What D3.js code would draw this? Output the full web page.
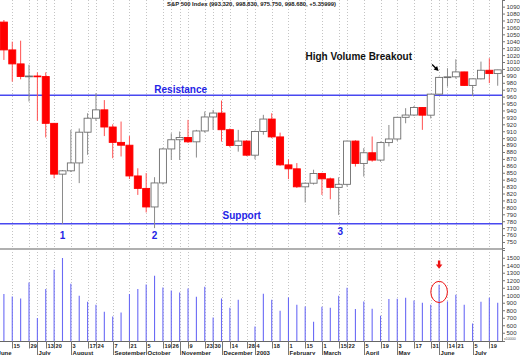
<!DOCTYPE html>
<html>
<head>
<meta charset="utf-8">
<script src="https://cdn.jsdelivr.net/npm/d3@7"></script>
<style>
  body { margin: 0; background: #fff; }
  svg { display: block; font-family: 'Liberation Sans', Arial, sans-serif; }
</style>
</head>
<body>
<div id="chart"></div>
<script>
// weekly bars, dated by the Saturday that ends each week
var weeks = ['2002-06-08','2002-06-15','2002-06-22','2002-06-29','2002-07-06','2002-07-13','2002-07-20','2002-07-27',
  '2002-08-03','2002-08-10','2002-08-17','2002-08-24','2002-08-31','2002-09-07','2002-09-14','2002-09-21','2002-09-28',
  '2002-10-05','2002-10-12','2002-10-19','2002-10-26','2002-11-02','2002-11-09','2002-11-16','2002-11-23','2002-11-30',
  '2002-12-07','2002-12-14','2002-12-21','2002-12-28','2003-01-04','2003-01-11','2003-01-18','2003-01-25','2003-02-01',
  '2003-02-08','2003-02-15','2003-02-22','2003-03-01','2003-03-08','2003-03-15','2003-03-22','2003-03-29','2003-04-05',
  '2003-04-12','2003-04-19','2003-04-26','2003-05-03','2003-05-10','2003-05-17','2003-05-24','2003-05-31','2003-06-07',
  '2003-06-14','2003-06-21','2003-06-28','2003-07-05','2003-07-12','2003-07-19','2003-07-26'];

var open  = [1067.7,1027.5,1007.3,989.1,989.8,989.0,921.4,848.0,852.8,864.2,908.6,928.8,940.9,916.1,893.9,889.8,845.4,
  827.4,800.6,835.3,884.4,897.7,901.0,894.7,910.4,930.6,936.3,912.2,889.5,895.8,875.4,909.6,927.6,901.8,861.4,
  855.7,829.7,834.9,849.0,841.2,828.9,833.3,895.8,863.5,878.9,868.3,893.6,898.8,930.1,933.4,944.3,933.2,963.6,
  987.8,988.6,995.7,976.2,985.7,998.1,993.32];
var high  = [1070.7,1039.4,1040.8,1006.0,995.0,995.0,922.0,854.0,912.0,914.0,936.0,965.0,955.0,920.0,924.0,903.0,856.5,
  849.5,843.6,886.0,907.0,909.6,926.4,912.0,938.5,940.8,954.3,914.0,912.0,897.0,911.0,933.7,936.0,908.0,869.5,
  864.0,836.0,854.4,850.0,843.0,843.5,896.6,897.0,885.6,902.4,895.0,919.0,931.0,943.3,946.5,945.0,964.0,989.0,
  1001.0,1014.0,996.0,986.0,1010.6,1015.4,998.83];
var low   = [1013.0,981.7,985.0,953.0,925.0,901.0,842.0,776.0,851.0,835.0,876.0,925.0,903.0,871.0,873.5,841.0,818.0,
  792.7,770.0,833.0,868.5,868.5,893.0,872.0,908.0,912.0,895.0,887.0,880.5,874.0,869.5,905.0,900.0,860.0,840.8,
  828.0,807.0,833.0,818.0,811.7,789.0,830.0,859.0,844.5,866.0,866.0,888.0,896.0,921.5,932.0,912.0,928.5,962.0,
  974.5,986.0,975.4,961.0,985.0,979.5,975.75];
var close = [1027.5,1007.3,989.1,989.8,989.0,921.4,848.0,852.8,864.2,908.6,928.8,940.9,916.1,893.9,889.8,845.4,827.4,
  800.6,835.3,884.4,897.7,901.0,894.7,910.4,930.6,936.3,912.2,889.5,895.8,875.4,909.6,927.6,901.8,861.4,855.7,
  829.7,834.9,849.0,841.2,828.9,833.3,895.8,863.5,878.9,868.3,893.6,898.8,930.1,933.4,944.3,933.2,963.6,987.8,
  988.6,995.7,976.2,985.7,998.1,993.3,998.68];
var volume = [1016,984,957,1171,696,1082,1340,1496,1153,993,913,873,780,718,771,1016,1082,1144,1260,1104,1064,1038,
  1091,980,1113,704,957,833,940,380,584,1020,940,793,971,873,851,647,847,833,993,1100,816,918,820,727,949,953,967,
  931,900,873,1140,918,1007,873,624,913,967,900];

var dayTicks = ['2002-06-15','2002-06-29','2002-07-13','2002-07-20','2002-08-03','2002-08-17','2002-08-24','2002-09-07',
  '2002-09-21','2002-10-05','2002-10-19','2002-10-26','2002-11-09','2002-11-23','2002-11-30','2002-12-14','2002-12-28',
  '2003-01-04','2003-01-18','2003-02-01','2003-02-15','2003-03-01','2003-03-15','2003-03-22','2003-04-05','2003-04-19',
  '2003-05-03','2003-05-17','2003-05-31','2003-06-14','2003-06-21','2003-07-05','2003-07-19'];
var monthTicks = ['2002-06-01','2002-07-06','2002-08-03','2002-09-07','2002-10-05','2002-11-02','2002-12-07','2003-01-04',
  '2003-02-01','2003-03-01','2003-04-05','2003-05-03','2003-06-07','2003-07-05'];
var monthNames = ['June','July','August','September','October','November','December','2003',
  'February','March','April','May','June','July'];

var priceTicks = d3.range(750, 1091, 10);
var volumeTicks = d3.range(500, 1501, 100);

var resistance = 962;
var support = 776.5;
var lowPoints = [7, 18, 40];
var breakout = 52;
var title = 'S&P 500 Index (993.320, 998.830, 975.750, 998.680, +5.35999)';

drawChart();

function drawChart() {
  var parse = d3.utcParse('%Y-%m-%d');
  var W = 520, H = 355, right = 502;

  var x = d3.scaleUtc()
    .domain([parse(weeks[0]), parse(weeks[weeks.length - 1])])
    .range([3.9, 497.7]);
  var y = d3.scaleLinear().domain([741.3, 1099.6]).range([248, 0]);
  var yv = d3.scaleLinear().domain([390, 1603]).range([341, 250]);

  var svg = d3.select('#chart').append('svg')
    .attr('width', W).attr('height', H);

  svg.append('clipPath').attr('id', 'priceClip')
    .append('rect').attr('x', 0).attr('y', 0).attr('width', right).attr('height', 248);
  svg.append('clipPath').attr('id', 'volClip')
    .append('rect').attr('x', 0).attr('y', 250).attr('width', right).attr('height', 91);

  // vertical dotted grid
  var gridDates = dayTicks.concat(monthTicks);
  svg.append('g').selectAll('line')
    .data(gridDates).enter().append('line')
    .attr('x1', function (d) { return Math.round(x(parse(d))) + 0.5; })
    .attr('x2', function (d) { return Math.round(x(parse(d))) + 0.5; })
    .attr('y1', 0).attr('y2', 341)
    .attr('stroke', '#c4c4c4')
    .attr('stroke-dasharray', '1,2');

  // panel separator
  svg.append('line').attr('x1', 0).attr('x2', right).attr('y1', 249).attr('y2', 249)
    .attr('stroke', '#b0b0b0').attr('stroke-width', 2);

  // support / resistance
  svg.append('line').attr('x1', 0).attr('x2', right)
    .attr('y1', y(resistance)).attr('y2', y(resistance))
    .attr('stroke', '#4848f0').attr('stroke-width', 1.5);
  svg.append('line').attr('x1', 0).attr('x2', right)
    .attr('y1', y(support)).attr('y2', y(support))
    .attr('stroke', '#4848f0').attr('stroke-width', 1.5);

  // candles
  var bars = weeks.map(function (w, i) {
    return { date: parse(w), o: open[i], h: high[i], l: low[i], c: close[i], v: volume[i] };
  });
  var bw = 7;
  var cg = svg.append('g').attr('clip-path', 'url(#priceClip)');
  var candle = cg.selectAll('g').data(bars).enter().append('g');
  candle.append('line')
    .attr('x1', function (d) { return x(d.date); })
    .attr('x2', function (d) { return x(d.date); })
    .attr('y1', function (d) { return y(d.h); })
    .attr('y2', function (d) { return y(d.l); })
    .attr('stroke', function (d) { return d.c < d.o ? '#ff5050' : '#8a8a8a'; })
    .attr('stroke-width', 1);
  candle.append('rect')
    .attr('x', function (d) { return x(d.date) - bw / 2; })
    .attr('width', bw)
    .attr('y', function (d) { return y(Math.max(d.o, d.c)); })
    .attr('height', function (d) { return Math.max(0.8, Math.abs(y(d.o) - y(d.c))); })
    .attr('fill', function (d) { return d.c < d.o ? '#ff0000' : '#ffffff'; })
    .attr('stroke', function (d) { return d.c < d.o ? '#ff0000' : '#6e6e6e'; })
    .attr('stroke-width', 0.9);

  // volume
  svg.append('g').attr('clip-path', 'url(#volClip)')
    .selectAll('line').data(bars).enter().append('line')
    .attr('x1', function (d) { return x(d.date); })
    .attr('x2', function (d) { return x(d.date); })
    .attr('y1', function (d) { return yv(d.v); })
    .attr('y2', 341)
    .attr('stroke', '#6a6af5')
    .attr('stroke-width', 1.1);

  // right axes
  var pa = svg.append('g').attr('transform', 'translate(' + right + ',0)')
    .call(d3.axisRight(y).tickValues(priceTicks).tickSize(3).tickPadding(1.5).tickFormat(d3.format('d')));
  var va = svg.append('g').attr('transform', 'translate(' + right + ',0)')
    .call(d3.axisRight(yv).tickValues(volumeTicks).tickSize(3).tickPadding(1.5).tickFormat(d3.format('d')));
  [pa, va].forEach(function (a) {
    a.select('.domain').attr('stroke', '#777');
    a.selectAll('.tick line').attr('stroke', '#777');
    a.selectAll('.tick text').attr('font-size', '6px').attr('fill', '#333')
      .attr('font-family', "'Liberation Sans', Arial, sans-serif");
  });
  svg.append('line').attr('x1', right + 0.5).attr('x2', right + 0.5).attr('y1', 0).attr('y2', 341)
    .attr('stroke', '#777');
  svg.append('text').attr('x', 504).attr('y', 339.5)
    .attr('font-size', '3.6px').attr('fill', '#555').text('x10000');

  // bottom date axis
  svg.append('line').attr('x1', 0).attr('x2', right + 1).attr('y1', 341.5).attr('y2', 341.5)
    .attr('stroke', '#666');
  svg.append('g').selectAll('line').data(dayTicks).enter().append('line')
    .attr('x1', function (d) { return Math.round(x(parse(d))) + 0.5; })
    .attr('x2', function (d) { return Math.round(x(parse(d))) + 0.5; })
    .attr('y1', 341).attr('y2', 348.5)
    .attr('stroke', '#777');
  svg.append('g').selectAll('text').data(dayTicks).enter().append('text')
    .attr('x', function (d) { return Math.round(x(parse(d))) + 1.6; })
    .attr('y', 347.6)
    .attr('font-size', '5.6px').attr('font-weight', 'bold').attr('fill', '#222')
    .text(function (d) { return +d.slice(8); });
  svg.append('g').selectAll('line').data(monthTicks).enter().append('line')
    .attr('x1', function (d) { return Math.round(x(parse(d))) + 0.5; })
    .attr('x2', function (d) { return Math.round(x(parse(d))) + 0.5; })
    .attr('y1', 341).attr('y2', 355)
    .attr('stroke', '#777');
  svg.append('g').selectAll('text').data(monthTicks).enter().append('text')
    .attr('x', function (d) { return Math.round(x(parse(d))) + 1.6; })
    .attr('y', 354.6)
    .attr('font-size', '6px').attr('font-weight', 'bold').attr('fill', '#222')
    .text(function (d, i) { return monthNames[i]; });

  // annotations
  svg.append('text').attr('x', 167).attr('y', 6.3)
    .attr('font-size', '5.9px').attr('font-weight', 'bold').attr('fill', '#222').text(title);
  svg.append('text').attr('x', 305.5).attr('y', 59.5)
    .attr('font-size', '10px').attr('font-weight', 'bold').attr('fill', '#111').text('High Volume Breakout');
  svg.append('text').attr('x', 154.3).attr('y', 93.2)
    .attr('font-size', '10px').attr('font-weight', 'bold').attr('fill', '#2424e6').text('Resistance');
  svg.append('text').attr('x', 222.6).attr('y', 219.2)
    .attr('font-size', '10px').attr('font-weight', 'bold').attr('fill', '#2424e6').text('Support');
  var dy = [238.5, 239, 235];
  svg.append('g').selectAll('text').data(lowPoints).enter().append('text')
    .attr('x', function (d) { return x(bars[d].date) + (d === 40 ? 1.5 : 0); })
    .attr('y', function (d, i) { return dy[i]; })
    .attr('text-anchor', 'middle')
    .attr('font-size', '10px').attr('font-weight', 'bold').attr('fill', '#2424e6')
    .text(function (d, i) { return i + 1; });

  // black arrow at the breakout bar
  var bx = x(bars[breakout].date), by = y(bars[breakout].h);
  svg.append('line').attr('x1', bx - 7).attr('y1', by - 12).attr('x2', bx - 2.5).attr('y2', by - 7.5)
    .attr('stroke', '#000').attr('stroke-width', 1.3);
  svg.append('path')
    .attr('d', 'M' + (bx - 0.5) + ',' + (by - 5.5) + 'L' + (bx - 5.5) + ',' + (by - 7) + 'L' + (bx - 2) + ',' + (by - 10.5) + 'Z')
    .attr('fill', '#000');

  // red arrow and ellipse on the breakout volume
  var vy = yv(bars[breakout].v);
  svg.append('ellipse').attr('cx', bx).attr('cy', vy + 7.2).attr('rx', 8.3).attr('ry', 10.6)
    .attr('fill', 'none').attr('stroke', '#ee1111').attr('stroke-width', 1);
  svg.append('rect').attr('x', bx - 1.2).attr('y', 260.5).attr('width', 2.4).attr('height', 4.5).attr('fill', '#ee1111');
  svg.append('path')
    .attr('d', 'M' + (bx - 3.3) + ',264.5L' + (bx + 3.3) + ',264.5L' + bx + ',268.8Z')
    .attr('fill', '#ee1111');
}
</script>
</body>
</html>
